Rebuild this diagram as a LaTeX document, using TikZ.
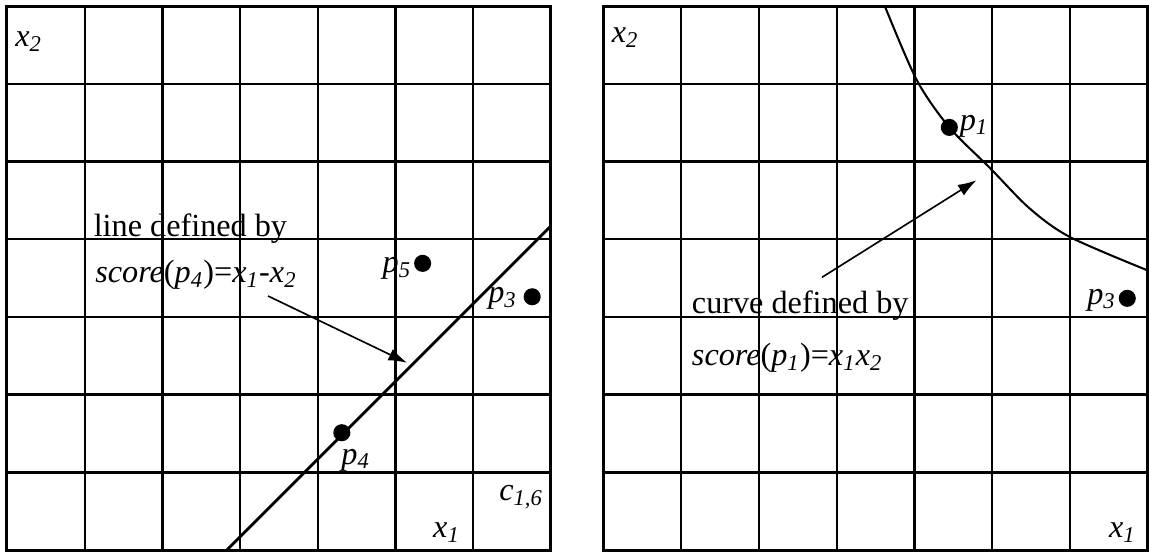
\documentclass[tikz,border=0pt]{standalone}
\usepackage{fontspec}
\setmainfont{Liberation Serif}
\usetikzlibrary{arrows.meta}
\newcommand{\vsub}[2]{\textit{#1}\textsubscript{\textit{#2}}}
\tikzset{
  >={Latex[length=2.4mm,width=1.6mm]},
  gridline/.style={line width=0.85pt, draw=black},
  gridframe/.style={line width=1.1pt, draw=black},
  scoreline/.style={line width=1pt, draw=black},
  pointer/.style={->, line width=0.6pt, draw=black},
  dot/.style={circle, fill=black, inner sep=0pt, minimum size=0.22cm},
  lbl/.style={inner sep=0.5pt, font=\fontsize{11.8}{14}\selectfont},
  caption/.style={lbl, anchor=base west, inner sep=0pt}
}

\begin{document}
\begin{tikzpicture}
  \useasboundingbox (-0.09,-0.026) rectangle (14.70,7.08);

  % left grid: line score
  \draw[gridline] (0,0) grid (7,7);
  \draw[gridframe] (0,0) rectangle (7,7);
  \node[lbl] (lx2) at (0.28,6.54) {\vsub{x}{2}};
  \node[lbl] (lx1) at (5.66,0.22) {\vsub{x}{1}};
  \node[lbl] (cell) at (6.62,0.68) {\vsub{c}{1,6}};

  \draw[scoreline] (2.83,0) -- (7,4.17);
  \node[dot] (p4) at (4.31,1.51) {};
  \node[dot] (p5) at (5.35,3.69) {};
  \node[dot] (p3) at (6.76,3.26) {};
  \node[lbl] (p4lab) at (4.49,1.16) {\vsub{p}{4}};
  \node[lbl, anchor=east] (p5lab) at (5.23,3.63) {\vsub{p}{5}};
  \node[lbl] (p3lab) at (6.38,3.24) {\vsub{p}{3}};

  \node[caption] (linecap) at (1.11,4.03) {line defined by};
  \node[caption] (linescore) at (1.13,3.44) {\textit{score}(\vsub{p}{4})=\vsub{x}{1}-\vsub{x}{2}};
  \coordinate (lineA) at (3.36,3.27);
  \coordinate (lineB) at (5.15,2.41);
  \draw[pointer] (lineA) -- (lineB);

  % right grid: curve score
  \begin{scope}[xshift=7.68cm]
    \draw[gridline] (0,0) grid (7,7);
    \draw[gridframe] (0,0) rectangle (7,7);
    \node[lbl] (rx2) at (0.28,6.6) {\vsub{x}{2}};
    \node[lbl] (rx1) at (6.68,0.23) {\vsub{x}{1}};

    \draw[scoreline, line width=0.75pt] plot[smooth] coordinates
      {(3.62,7) (4.03,6.05) (4.45,5.44) (4.97,4.92) (5.48,4.40) (6.0,4.03) (7,3.6)};
    \node[dot] (rp1) at (4.45,5.44) {};
    \node[dot] (rp3) at (6.74,3.24) {};
    \node[lbl] (rp1lab) at (4.77,5.46) {\vsub{p}{1}};
    \node[lbl] (rp3lab) at (6.41,3.22) {\vsub{p}{3}};

    \node[caption] (curvecap) at (1.13,3.05) {curve defined by};
    \node[caption] (curvescore) at (1.13,2.38) {\textit{score}(\vsub{p}{1})=\vsub{x}{1}\vsub{x}{2}};
    \coordinate (curveA) at (2.81,3.51);
    \coordinate (curveB) at (4.80,4.76);
    \draw[pointer] (curveA) -- (curveB);
  \end{scope}
\end{tikzpicture}
\end{document}
